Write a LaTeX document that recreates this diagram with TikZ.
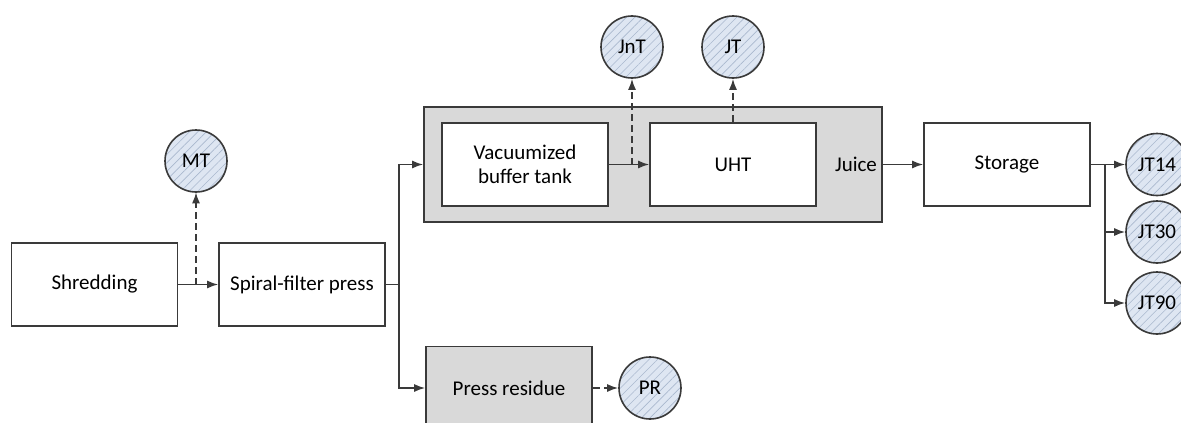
\documentclass[tikz,border=0pt]{standalone}
\usepackage{fontspec}
\setmainfont{Carlito}
\usetikzlibrary{arrows.meta,patterns.meta}

\definecolor{linegray}{HTML}{3A3A3A}
\definecolor{boxgray}{HTML}{D9D9D9}
\definecolor{sampleblue}{HTML}{DEE6F2}
\definecolor{hatchblue}{HTML}{AAB8CE}

\tikzset{
  stage/.style={draw=linegray, line width=1.6pt, fill=white, minimum width=166pt,
    minimum height=83pt, align=center, inner sep=2pt, font=\fontsize{21}{24}\selectfont},
  sample/.style={circle, draw=linegray, line width=1.6pt, minimum size=62pt, inner sep=0pt,
    preaction={fill=sampleblue}, pattern={Lines[angle=45,distance=6pt,line width=0.6pt]},
    pattern color=hatchblue, font=\fontsize{21}{24}\selectfont},
  flow/.style={-{Latex[length=11pt,width=8pt]}, draw=linegray, line width=1.6pt},
  take/.style={flow, dash pattern=on 7pt off 4pt},
}

\begin{document}
\begin{tikzpicture}[x=1pt,y=-1pt]
  \useasboundingbox (0,0) rectangle (1181,423);
  \clip (0,0) rectangle (1181,423);

  % juice line
  \node[draw=linegray, fill=boxgray, line width=1.6pt, minimum width=458pt, minimum height=115pt] (juicebox) at (653,164.5) {};
  \node[stage] (shred) at (94.5,284.5) {Shredding};
  \node[stage] (spiral) at (302,284.5) {Spiral-filter press};
  \node[stage] (vac) at (525,164.5) {Vacuumized\\buffer tank};
  \node[stage] (uht) at (733,164.5) {UHT};
  \node[font=\fontsize{21}{24}\selectfont] (juice) at (856,164.5) {Juice};
  \node[stage] (store) at (1007,164.5) {Storage};
  \node[stage, fill=boxgray] (residue) at (509,388) {Press residue};

  % samples
  \node[sample] (mt) at (196,161) {MT};
  \node[sample] (jnt) at (632,47) {JnT};
  \node[sample] (jt) at (733,47) {JT};
  \node[sample] (jt14) at (1157,164.5) {JT14};
  \node[sample] (jt30) at (1157,232) {JT30};
  \node[sample] (jt90) at (1157,303) {JT90};
  \node[sample] (pr) at (650,388) {PR};

  \coordinate (mtfork) at (196,284.5);
  \coordinate (split) at (399,284.5);
  \coordinate (jntfork) at (632,164.5);
  \coordinate (fan) at (1105,164.5);

  \draw[flow] (shred) -- (spiral);
  \draw[take] (mtfork) -- (mt.south);
  \draw[linegray, line width=1.6pt] (spiral) -- (split);
  \draw[flow] (split) |- (juicebox.west);
  \draw[flow] (split) |- (residue.west);
  \draw[flow] (vac) -- (uht);
  \draw[take] (jntfork) -- (jnt.south);
  \draw[take] (uht.north) -- (jt.south);
  \draw[flow] (juicebox.east) -- (store.west);
  \draw[linegray, line width=1.6pt] (store) -- (fan);
  \draw[flow] (fan) -- (jt14.west);
  \draw[flow] (fan) |- (jt30.west);
  \draw[flow] (fan) |- (jt90.west);
  \draw[take] (residue) -- (pr);
\end{tikzpicture}
\end{document}
